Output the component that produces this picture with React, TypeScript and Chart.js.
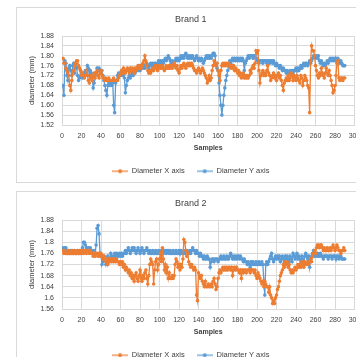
import React, { useEffect, useRef } from "react";
import { Chart, registerables } from "chart.js";
Chart.register(...registerables);

// ---- data ----
const xTickStep = 20;
const xMin = 0;
const xMax = 300;
const firstSample = 1;

const brand1Title = "Brand 1";
const brand2Title = "Brand 2";
const seriesNames = ["Diameter X axis", "Diameter Y axis"];
const xAxisTitle = "Samples";
const yAxisTitle = "diameter (mm)";

const yTicks1 = ["1.52", "1.56", "1.60", "1.64", "1.68", "1.72", "1.76", "1.80", "1.84", "1.88"];
const yTicks2 = ["1.56", "1.6", "1.64", "1.68", "1.72", "1.76", "1.8", "1.84", "1.88"];

const brand1X = [
  1.79,1.77,1.77,1.75,1.74,1.73,1.72,1.68,1.66,1.70,
  1.73,1.74,1.76,1.77,1.78,1.78,1.76,1.75,1.74,1.72,
  1.73,1.72,1.71,1.72,1.74,1.72,1.70,1.69,1.71,1.72,
  1.70,1.72,1.73,1.71,1.73,1.74,1.72,1.71,1.73,1.74,
  1.72,1.71,1.71,1.70,1.71,1.70,1.70,1.71,1.70,1.70,
  1.70,1.70,1.71,1.70,1.70,1.70,1.70,1.71,1.72,1.73,
  1.74,1.73,1.75,1.74,1.73,1.74,1.75,1.74,1.73,1.75,
  1.74,1.75,1.74,1.73,1.75,1.74,1.75,1.76,1.75,1.76,
  1.75,1.76,1.77,1.78,1.80,1.78,1.76,1.74,1.73,1.74,
  1.73,1.74,1.75,1.74,1.75,1.76,1.75,1.74,1.75,1.76,
  1.75,1.75,1.76,1.75,1.74,1.75,1.76,1.75,1.75,1.76,
  1.75,1.76,1.75,1.76,1.77,1.76,1.75,1.76,1.74,1.73,
  1.75,1.76,1.75,1.76,1.77,1.76,1.75,1.76,1.77,1.76,
  1.77,1.76,1.77,1.76,1.75,1.74,1.74,1.73,1.74,1.75,
  1.74,1.73,1.74,1.75,1.74,1.73,1.72,1.71,1.69,1.70,
  1.72,1.70,1.71,1.74,1.76,1.78,1.77,1.76,1.77,1.74,
  1.72,1.70,1.74,1.76,1.77,1.76,1.77,1.76,1.77,1.76,
  1.77,1.76,1.75,1.76,1.75,1.76,1.74,1.75,1.74,1.73,
  1.74,1.72,1.73,1.71,1.72,1.73,1.71,1.72,1.71,1.72,
  1.71,1.72,1.74,1.73,1.75,1.76,1.75,1.77,1.82,1.81,
  1.82,1.74,1.69,1.72,1.73,1.74,1.72,1.73,1.72,1.74,
  1.76,1.73,1.72,1.70,1.71,1.72,1.73,1.71,1.72,1.70,
  1.72,1.73,1.71,1.72,1.70,1.68,1.66,1.69,1.70,1.71,
  1.70,1.72,1.70,1.71,1.73,1.72,1.70,1.72,1.71,1.70,
  1.72,1.71,1.70,1.69,1.72,1.71,1.68,1.70,1.72,1.71,
  1.70,1.68,1.67,1.57,1.78,1.84,1.82,1.82,1.80,1.76,
  1.74,1.72,1.71,1.73,1.72,1.75,1.73,1.72,1.71,1.73,
  1.75,1.73,1.72,1.74,1.72,1.70,1.68,1.65,1.66,1.68,
  1.72,1.77,1.78,1.71,1.70,1.71,1.71,1.70,1.71,1.71,
];

const brand1Y = [
  1.68,1.64,1.78,1.77,1.72,1.70,1.75,1.76,1.74,1.72,
  1.76,1.77,1.73,1.77,1.75,1.72,1.70,1.71,1.74,1.72,
  1.71,1.73,1.72,1.74,1.73,1.76,1.75,1.72,1.74,1.73,
  1.71,1.67,1.69,1.72,1.73,1.75,1.74,1.75,1.74,1.73,
  1.74,1.72,1.70,1.68,1.66,1.64,1.68,1.69,1.68,1.69,
  1.68,1.69,1.60,1.57,1.69,1.70,1.72,1.73,1.72,1.73,
  1.72,1.73,1.72,1.71,1.65,1.68,1.70,1.71,1.72,1.71,
  1.72,1.73,1.72,1.74,1.73,1.74,1.75,1.74,1.75,1.74,
  1.75,1.76,1.75,1.76,1.75,1.76,1.77,1.76,1.75,1.76,
  1.77,1.76,1.77,1.76,1.77,1.77,1.76,1.77,1.78,1.77,
  1.78,1.77,1.78,1.77,1.78,1.79,1.78,1.79,1.80,1.79,
  1.78,1.77,1.78,1.77,1.76,1.78,1.79,1.78,1.79,1.78,
  1.79,1.80,1.79,1.80,1.79,1.80,1.81,1.80,1.79,1.80,
  1.79,1.80,1.79,1.80,1.79,1.78,1.79,1.80,1.79,1.78,
  1.79,1.78,1.79,1.78,1.77,1.78,1.79,1.80,1.79,1.80,
  1.79,1.80,1.79,1.80,1.81,1.81,1.80,1.76,1.75,1.74,
  1.69,1.64,1.60,1.56,1.60,1.64,1.67,1.70,1.72,1.74,
  1.76,1.78,1.77,1.78,1.79,1.78,1.79,1.78,1.79,1.78,
  1.79,1.78,1.79,1.78,1.79,1.78,1.74,1.77,1.78,1.79,
  1.80,1.79,1.80,1.80,1.80,1.79,1.80,1.80,1.79,1.78,
  1.78,1.77,1.78,1.78,1.78,1.77,1.78,1.78,1.78,1.77,
  1.78,1.78,1.77,1.78,1.78,1.77,1.78,1.77,1.76,1.77,
  1.76,1.76,1.75,1.76,1.75,1.74,1.75,1.74,1.74,1.73,
  1.74,1.73,1.73,1.74,1.73,1.74,1.73,1.74,1.74,1.75,
  1.74,1.75,1.74,1.75,1.76,1.75,1.76,1.77,1.76,1.77,
  1.77,1.76,1.77,1.78,1.77,1.78,1.79,1.80,1.80,1.79,
  1.80,1.79,1.80,1.78,1.77,1.78,1.77,1.76,1.77,1.76,
  1.77,1.78,1.77,1.78,1.79,1.78,1.79,1.78,1.79,1.78,
  1.79,1.78,1.79,1.78,1.77,1.78,1.77,1.76,1.76,1.76,
];

const brand2X = [
  1.77,1.76,1.77,1.76,1.76,1.76,1.77,1.76,1.76,1.77,
  1.76,1.76,1.77,1.76,1.76,1.77,1.76,1.76,1.77,1.76,
  1.77,1.76,1.77,1.77,1.76,1.77,1.77,1.76,1.77,1.76,
  1.76,1.75,1.76,1.75,1.76,1.76,1.75,1.76,1.75,1.76,
  1.75,1.74,1.75,1.74,1.73,1.74,1.72,1.74,1.73,1.74,
  1.73,1.74,1.73,1.74,1.73,1.74,1.73,1.73,1.72,1.73,
  1.72,1.73,1.71,1.72,1.70,1.71,1.70,1.69,1.70,1.68,
  1.69,1.67,1.68,1.66,1.68,1.69,1.67,1.66,1.68,1.70,
  1.67,1.66,1.68,1.67,1.69,1.70,1.67,1.65,1.68,1.72,
  1.74,1.73,1.72,1.65,1.70,1.73,1.74,1.70,1.72,1.74,
  1.76,1.73,1.78,1.74,1.70,1.72,1.69,1.71,1.67,1.69,
  1.67,1.67,1.68,1.67,1.68,1.72,1.74,1.73,1.71,1.72,
  1.70,1.72,1.71,1.74,1.81,1.80,1.77,1.75,1.76,1.73,
  1.72,1.71,1.72,1.71,1.70,1.71,1.70,1.61,1.59,1.69,
  1.68,1.67,1.68,1.66,1.65,1.64,1.66,1.64,1.64,1.65,
  1.64,1.64,1.65,1.64,1.66,1.67,1.65,1.63,1.64,1.67,
  1.69,1.70,1.69,1.70,1.71,1.70,1.71,1.70,1.71,1.70,
  1.71,1.71,1.70,1.71,1.68,1.70,1.71,1.70,1.71,1.70,
  1.70,1.69,1.70,1.67,1.70,1.69,1.70,1.70,1.69,1.70,
  1.70,1.70,1.69,1.70,1.70,1.70,1.69,1.70,1.68,1.67,
  1.69,1.68,1.67,1.66,1.65,1.66,1.64,1.66,1.65,1.64,
  1.64,1.62,1.64,1.61,1.60,1.58,1.59,1.58,1.60,1.61,
  1.63,1.64,1.66,1.68,1.69,1.70,1.72,1.71,1.73,1.72,
  1.73,1.71,1.72,1.70,1.69,1.70,1.69,1.70,1.71,1.70,
  1.71,1.72,1.71,1.72,1.71,1.73,1.72,1.71,1.73,1.72,
  1.72,1.73,1.72,1.73,1.74,1.73,1.75,1.76,1.77,1.76,
  1.78,1.79,1.79,1.78,1.79,1.79,1.78,1.77,1.78,1.77,
  1.77,1.78,1.77,1.77,1.78,1.77,1.78,1.79,1.78,1.77,
  1.78,1.79,1.78,1.77,1.77,1.76,1.77,1.77,1.78,1.77,
];

const brand2Y = [
  1.78,1.77,1.78,1.78,1.77,1.76,1.77,1.76,1.77,1.76,
  1.77,1.76,1.77,1.76,1.76,1.77,1.76,1.77,1.76,1.77,
  1.78,1.80,1.80,1.79,1.78,1.77,1.78,1.77,1.78,1.77,
  1.77,1.76,1.77,1.76,1.79,1.85,1.86,1.83,1.76,1.75,
  1.72,1.73,1.75,1.74,1.72,1.74,1.75,1.73,1.74,1.76,
  1.75,1.74,1.75,1.76,1.75,1.76,1.75,1.75,1.76,1.75,
  1.76,1.75,1.76,1.76,1.77,1.76,1.77,1.78,1.77,1.76,
  1.77,1.78,1.77,1.78,1.77,1.76,1.77,1.78,1.77,1.76,
  1.77,1.78,1.77,1.76,1.77,1.77,1.78,1.77,1.76,1.77,
  1.76,1.76,1.77,1.76,1.76,1.77,1.76,1.76,1.77,1.76,
  1.76,1.77,1.77,1.76,1.77,1.77,1.76,1.77,1.77,1.76,
  1.77,1.76,1.76,1.77,1.76,1.76,1.77,1.76,1.76,1.77,
  1.76,1.77,1.76,1.76,1.77,1.76,1.76,1.77,1.76,1.76,
  1.77,1.76,1.77,1.78,1.77,1.77,1.76,1.77,1.76,1.76,
  1.75,1.76,1.75,1.75,1.74,1.75,1.74,1.74,1.75,1.74,
  1.74,1.71,1.73,1.74,1.74,1.73,1.74,1.74,1.74,1.73,
  1.74,1.74,1.75,1.74,1.74,1.75,1.74,1.74,1.75,1.74,
  1.74,1.75,1.76,1.75,1.74,1.75,1.74,1.75,1.74,1.75,
  1.75,1.74,1.75,1.74,1.74,1.73,1.74,1.73,1.73,1.72,
  1.73,1.72,1.71,1.73,1.72,1.73,1.72,1.72,1.73,1.72,
  1.72,1.73,1.72,1.72,1.73,1.72,1.66,1.61,1.72,1.73,
  1.72,1.73,1.74,1.75,1.76,1.74,1.73,1.74,1.75,1.74,
  1.75,1.74,1.75,1.73,1.74,1.75,1.74,1.73,1.75,1.74,
  1.75,1.74,1.73,1.75,1.74,1.73,1.76,1.75,1.74,1.75,
  1.76,1.74,1.75,1.74,1.73,1.75,1.74,1.72,1.75,1.76,
  1.75,1.74,1.75,1.71,1.74,1.75,1.76,1.77,1.75,1.76,
  1.75,1.76,1.75,1.75,1.76,1.75,1.75,1.74,1.75,1.75,
  1.75,1.75,1.74,1.75,1.75,1.75,1.74,1.75,1.75,1.75,
  1.74,1.75,1.75,1.74,1.75,1.75,1.74,1.74,1.74,1.74,
];

// ---- styling ----
const ORANGE = "#ED7D31";
const BLUE = "#5B9BD5";
const GRID = "#d9d9d9";
const TEXT = "#404040";
const FONT = "'Liberation Sans', Arial, sans-serif";

function legendImage(color: string) {
  const c = document.createElement("canvas");
  c.width = 16;
  c.height = 6;
  const g = c.getContext("2d")!;
  g.strokeStyle = color;
  g.lineWidth = 1.2;
  g.beginPath();
  g.moveTo(0, 3);
  g.lineTo(16, 3);
  g.stroke();
  g.fillStyle = color;
  g.beginPath();
  g.arc(8, 3, 2, 0, Math.PI * 2);
  g.fill();
  return c;
}

function makeConfig(title: string, xs: number[], ys: number[], yLabels: string[]): any {
  const yVals = yLabels.map((t) => parseFloat(t));
  const imgs = [legendImage(ORANGE), legendImage(BLUE)];
  const toPts = (arr: number[]) => arr.map((v, i) => ({ x: firstSample + i, y: v }));
  const ds = (label: string, arr: number[], color: string) => ({
    label,
    data: toPts(arr),
    borderColor: color,
    backgroundColor: color,
    borderWidth: 1.3,
    pointRadius: 1.8,
    pointBorderWidth: 0,
    pointStyle: "circle",
    tension: 0,
  });
  return {
    type: "line",
    data: {
      datasets: [ds(seriesNames[0], xs, ORANGE), ds(seriesNames[1], ys, BLUE)],
    },
    options: {
      responsive: false,
      animation: false,
      devicePixelRatio: 1,
      layout: { padding: { left: 10, right: 18.5, top: 0, bottom: 0 } },
      plugins: {
        tooltip: { enabled: false },
        title: {
          display: true,
          text: title,
          color: TEXT,
          font: { family: FONT, size: 9, weight: "normal" },
          padding: { top: 6.6, bottom: 10.6 },
        },
        legend: {
          position: "bottom",
          labels: {
            color: TEXT,
            font: { family: FONT, size: 7.5 },
            usePointStyle: true,
            pointStyleWidth: 16,
            padding: 12,
            generateLabels: (chart: any) =>
              Chart.defaults.plugins.legend.labels
                .generateLabels(chart)
                .map((l: any, i: number) => ({ ...l, pointStyle: imgs[i] })),
          },
        },
      },
      scales: {
        x: {
          type: "linear",
          min: xMin,
          max: xMax,
          afterFit: (s: any) => {
            s.height = 30.5;
          },
          ticks: {
            stepSize: xTickStep,
            color: TEXT,
            font: { family: FONT, size: 7 },
            padding: 7,
            maxRotation: 0,
            autoSkip: false,
          },
          grid: { color: GRID, drawTicks: false, lineWidth: 1 },
          border: { color: GRID },
          title: {
            display: true,
            text: xAxisTitle,
            color: TEXT,
            font: { family: FONT, size: 7, weight: "bold" },
            padding: { top: 0, bottom: 3.3 },
          },
        },
        y: {
          type: "linear",
          min: yVals[0],
          max: yVals[yVals.length - 1],
          afterFit: (s: any) => {
            s.width = 35;
          },
          afterBuildTicks: (s: any) => {
            s.ticks = yVals.map((v) => ({ value: v }));
          },
          ticks: {
            color: TEXT,
            font: { family: FONT, size: 7 },
            padding: 8,
            autoSkip: false,
            callback: (_v: any, i: number) => yLabels[i],
          },
          grid: { color: GRID, drawTicks: false, lineWidth: 1 },
          border: { color: GRID },
          title: {
            display: true,
            text: yAxisTitle,
            color: TEXT,
            font: { family: FONT, size: 7.5 },
            padding: { top: 0.2, bottom: 0 },
          },
        },
      },
    },
  };
}

function Panel(props: { title: string; xs: number[]; ys: number[]; yLabels: string[]; top: number }) {
  const ref = useRef<HTMLCanvasElement>(null);
  useEffect(() => {
    if (!ref.current) return;
    const chart = new Chart(ref.current, makeConfig(props.title, props.xs, props.ys, props.yLabels));
    return () => chart.destroy();
  }, []);
  return (
    <canvas
      ref={ref}
      width={356}
      height={177}
      style={{ position: "absolute", left: 17, top: props.top, width: 356, height: 177 }}
    />
  );
}

export default function App() {
  return (
    <div
      style={{
        position: "fixed",
        left: 0,
        top: 0,
        width: 356,
        height: 357,
        overflow: "hidden",
        background: "#ffffff",
      }}
    >
      <div
        style={{
          position: "absolute",
          left: 16,
          top: 7,
          width: 420,
          height: 176,
          border: `1px solid ${GRID}`,
          boxSizing: "border-box",
        }}
      />
      <div
        style={{
          position: "absolute",
          left: 16,
          top: 191,
          width: 420,
          height: 200,
          border: `1px solid ${GRID}`,
          boxSizing: "border-box",
        }}
      />
      <Panel title={brand1Title} xs={brand1X} ys={brand1Y} yLabels={yTicks1} top={8} />
      <Panel title={brand2Title} xs={brand2X} ys={brand2Y} yLabels={yTicks2} top={192} />
    </div>
  );
}
